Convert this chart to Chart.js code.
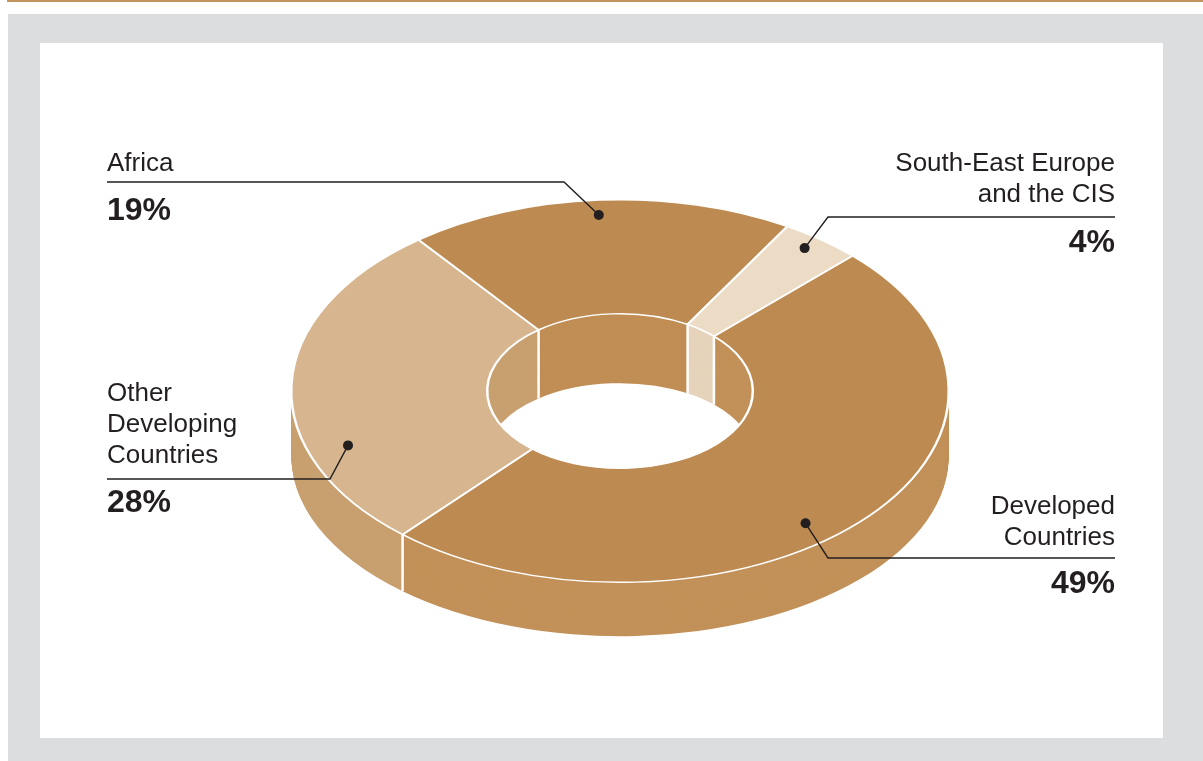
<!DOCTYPE html>
<html>
<head>
<meta charset="utf-8">
<script src="https://cdn.jsdelivr.net/npm/chart.js@4/dist/chart.umd.min.js"></script>
<style>
  html, body { margin: 0; padding: 0; background: #fff; }
  body { width: 1203px; height: 761px; position: relative; overflow: hidden;
         font-family: "Liberation Sans", Arial, sans-serif; color: #231f20; }
  #topline { position: absolute; left: 7px; top: 0; width: 1196px; height: 2px; background: #c4935a; }
  #frame { position: absolute; left: 8px; top: 14px; width: 1195px; height: 747px; background: #dcdddf; }
  #panel { position: absolute; left: 40px; top: 43px; width: 1123px; height: 695px; background: #fff; }
  #chart { position: absolute; left: 0; top: 0; }
  .lbl { position: absolute; font-size: 26px; line-height: 31px; white-space: nowrap; }
  .pct { position: absolute; font-size: 32px; line-height: 32px; font-weight: bold; white-space: nowrap; }
  .r { text-align: right; right: 88px; }
  .l { left: 107px; }
</style>
</head>
<body>
<div id="topline"></div>
<div id="frame"></div>
<div id="panel"></div>
<canvas id="chart" width="1203" height="761"></canvas>

<div class="lbl l" style="top:147px">Africa</div>
<div class="pct l" style="top:193px">19%</div>

<div class="lbl r" style="top:147px">South-East Europe<br>and the CIS</div>
<div class="pct r" style="top:225px">4%</div>

<div class="lbl l" style="top:377px">Other<br>Developing<br>Countries</div>
<div class="pct l" style="top:485px">28%</div>

<div class="lbl r" style="top:490px">Developed<br>Countries</div>
<div class="pct r" style="top:566px">49%</div>

<script>
// data
var categories = ['Developed Countries', 'Other Developing Countries', 'Africa', 'South-East Europe and the CIS'];
var shares = [49, 28, 19, 4];

// colours for the top face and the walls
var topColours = ['#bd8b51', '#d6b58f', '#bd8b51', '#ecdcc6'];
var sideColours = ['#c29159', '#c8a06f', '#c08e55', '#e6d3bb'];

// fake 3d: squash of the top face, squash of the bottom face, wall drop
var squashTop = 0.582;
var squashBottom = 0.548;
var drop = 65;

// leader lines: where the dot sits in the slice (fraction of angle, fraction of ring),
// the elbow, and where the horizontal rule ends
var leaders = [
  { at: 0.543, ring: 0.82, elbow: [828, 558], end: 1115 },
  { at: 0.294, ring: 0.79, elbow: [330, 479], end: 107 },
  { at: 0.494, ring: 0.87, elbow: [564, 182], end: 107 },
  { at: 0.44,  ring: 0.89, elbow: [828, 217], end: 1115 }
];

function squashed(ctx, arc, k, dy) {
  ctx.translate(arc.x, arc.y + dy);
  ctx.scale(1, k);
  ctx.translate(-arc.x, -arc.y);
}

var fake3d = {
  id: 'fake3d',
  beforeDatasetDraw: function(chart, args) {
    var ctx = chart.ctx;
    var arcs = args.meta.data;
    // walls: same arcs stacked downwards in the wall colour
    for (var d = drop; d >= 1; d--) {
      var t = d / drop;
      ctx.save();
      squashed(ctx, arcs[0], squashTop + t * (squashBottom - squashTop), d);
      arcs.forEach(function(arc, i) {
        var f = Object.create(arc);
        f.options = Object.assign({}, arc.options, { backgroundColor: sideColours[i], borderWidth: 0 });
        arc.draw.call(f, ctx);
      });
      ctx.restore();
    }
    // white edges where slices meet on the walls
    ctx.save();
    ctx.strokeStyle = '#fff';
    ctx.lineWidth = 2.5;
    arcs.forEach(function(arc) {
      var a = arc.startAngle;
      var r = Math.sin(a) > 0 ? arc.outerRadius : arc.innerRadius;
      var x = arc.x + r * Math.cos(a);
      ctx.beginPath();
      ctx.moveTo(x, arc.y + squashTop * r * Math.sin(a));
      ctx.lineTo(x, arc.y + drop + squashBottom * r * Math.sin(a));
      ctx.stroke();
    });
    ctx.restore();
    // top face
    ctx.save();
    squashed(ctx, arcs[0], squashTop, 0);
  },
  afterDatasetDraw: function(chart, args) {
    var ctx = chart.ctx;
    ctx.restore();
    ctx.save();
    ctx.strokeStyle = '#231f20';
    ctx.fillStyle = '#231f20';
    ctx.lineWidth = 1.4;
    args.meta.data.forEach(function(arc, i) {
      var L = leaders[i];
      var a = arc.startAngle + L.at * (arc.endAngle - arc.startAngle);
      var r = arc.innerRadius + L.ring * (arc.outerRadius - arc.innerRadius);
      var x = arc.x + r * Math.cos(a);
      var y = arc.y + squashTop * r * Math.sin(a);
      ctx.beginPath();
      ctx.moveTo(x, y);
      ctx.lineTo(L.elbow[0], L.elbow[1]);
      ctx.lineTo(L.end, L.elbow[1]);
      ctx.stroke();
      ctx.beginPath();
      ctx.arc(x, y, 5, 0, Math.PI * 2);
      ctx.fill();
    });
    ctx.restore();
  }
};

var ctx = document.getElementById('chart').getContext('2d');
var chart = new Chart(ctx, {
  type: 'doughnut',
  data: {
    labels: categories,
    datasets: [{
      data: shares,
      backgroundColor: topColours,
      borderColor: '#ffffff',
      borderWidth: 2.5
    }]
  },
  options: {
    responsive: false,
    animation: false,
    rotation: 45,
    cutout: '40.4%',
    layout: { padding: { left: 290, right: 253, top: 61, bottom: 40 } },
    plugins: { legend: { display: false }, tooltip: { enabled: false } },
    events: []
  },
  plugins: [fake3d]
});
</script>
</body>
</html>
